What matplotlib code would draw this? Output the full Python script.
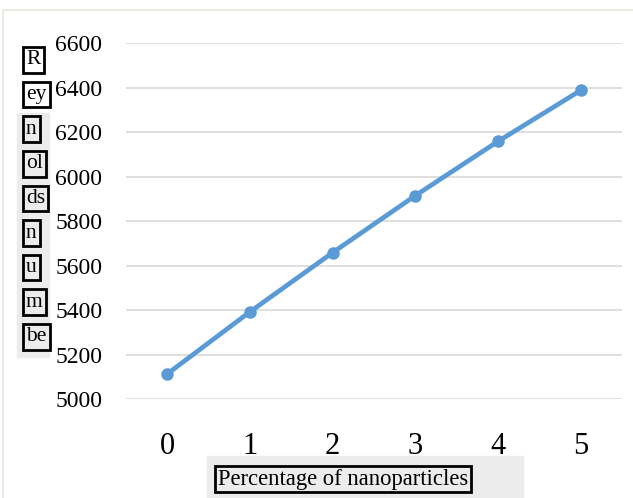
import matplotlib
matplotlib.use("Agg")
import matplotlib.pyplot as plt
from matplotlib.patches import Rectangle

percent = [0, 1, 2, 3, 4, 5]
reynolds = [5113, 5392, 5658, 5914, 6158, 6387]
ylabel_parts = ["R", "ey", "n", "ol", "ds", "n", "u", "m", "be"]
xlabel = "Percentage of nanoparticles"

plt.rcParams['font.family'] = ['Liberation Serif', 'DejaVu Serif']

W, H = 633, 498
fig = plt.figure(figsize=(W / 100, H / 100), dpi=100)
ax = fig.add_axes([126 / W, 1 - 399 / H, (622 - 126) / W, (399 - 43) / H])

ax.plot(percent, reynolds, color="#5B9BD5", lw=3.4, marker="o", markersize=8,
        solid_capstyle="round", zorder=3)
ax.set_xlim(-0.5, 5.5)
ax.set_ylim(5000, 6600)
ax.set_yticks(range(5000, 6601, 200))
ax.set_xticks(percent)
ax.grid(axis="y", color="#d9d9d9", lw=1.2)
ax.set_axisbelow(True)
for s in ax.spines.values():
    s.set_visible(False)
ax.tick_params(axis="y", length=0, pad=17, labelsize=17)
ax.tick_params(axis="x", length=0, pad=24, labelsize=22)

# outer frame
fig.patches.append(Rectangle((3 / W, -0.1), 1.2, 1 - 10 / H + 0.1, transform=fig.transFigure,
                             fill=False, edgecolor="#ebebe3", lw=1.5))

# y label: gray background + boxed fragments
fig.patches.append(Rectangle((17 / W, 1 - 357 / H), 32 / W, (357 - 113) / H,
                             transform=fig.transFigure, color="#ececec", zorder=0))
for i, part in enumerate(ylabel_parts):
    y = 60 + i * 34.6
    fig.text(26 / W, 1 - y / H, part, ha="left", va="center", fontsize=15.5,
             bbox=dict(boxstyle="square,pad=0.15", fc="none", ec="black", lw=2))

# x label: gray background + boxed text
fig.patches.append(Rectangle((207 / W, 0), (523 - 207) / W, (498 - 456) / H,
                             transform=fig.transFigure, color="#ececec", zorder=0))
fig.text(218 / W, 1 - 479 / H, xlabel, ha="left", va="center", fontsize=16.3,
         bbox=dict(boxstyle="square,pad=0.12", fc="none", ec="black", lw=2))

fig.savefig("out.png", dpi=100)
